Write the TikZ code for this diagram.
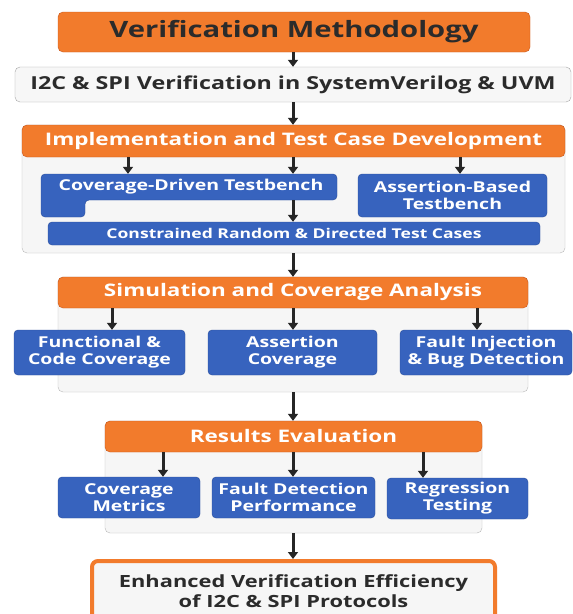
\documentclass[tikz,border=0pt]{standalone}
\usepackage{fontspec}
\setmainfont{Open Sans}[FakeStretch=1.3]
\usetikzlibrary{arrows.meta}
\definecolor{hdrorange}{HTML}{F27B2C}
\definecolor{hdrborder}{HTML}{C9561A}
\definecolor{blkblue}{HTML}{3763BE}
\definecolor{blkborder}{HTML}{284C9A}
\definecolor{panelfill}{HTML}{F6F6F6}
\definecolor{panelgray}{HTML}{B8B8B8}
\definecolor{inktext}{HTML}{2B2B2B}
\definecolor{arrblack}{HTML}{262626}
\tikzset{
  hdr/.style={draw=hdrborder, fill=hdrorange, rounded corners=5pt, text=white, font=\bfseries\fontsize{17.3}{20}\selectfont, inner sep=0pt},
  blk/.style={draw=blkborder, fill=blkblue, rounded corners=4pt, text=white, align=center, font=\bfseries\fontsize{15}{17}\selectfont, inner sep=0pt},
  panel/.style={draw=panelgray, fill=panelfill, rounded corners=5pt, inner sep=0pt},
  arr/.style={line width=3pt, draw=arrblack, -{Triangle[width=10pt,length=7pt]}}
}
\newcommand{\flowarr}[3]{\draw[arr] (#1.south -| #3,0) -- (#2.north -| #3,0);}

\begin{document}
\begin{tikzpicture}[x=1pt,y=-1pt]
    \clip (0,0) rectangle (573,614);
    \useasboundingbox (0,0) rectangle (573,614);
    \fill[white] (0,0) rectangle (573,614);

    %top boxes
    \node[hdr, text=inktext, font=\bfseries\fontsize{22.5}{26}\selectfont, minimum width=472pt, minimum height=40pt] (title) at (294,32) {Verification Methodology};
    \node[panel, draw=panelgray!90!black, fill=white!97!black, font=\bfseries\fontsize{17.9}{21}\selectfont, text=inktext, minimum width=556pt, minimum height=35pt] (sys) at (293,84.5) {I2C \& SPI Verification in SystemVerilog \& UVM};

    %implementation
    \node[panel, minimum width=543pt, minimum height=128pt] (implpanel) at (293.5,189) {};
    \node[hdr, minimum width=543pt, minimum height=32pt] (implhdr) at (293.5,141) {Implementation and Test Case Development};
    \fill[blkblue, draw=blkborder, rounded corners=4pt] (41,174) -- (337,174) -- (337,200) -- (85,200) -- (85,217) -- (41,217) -- cycle;
    \node[blk, draw=none, fill=none, minimum width=296pt, minimum height=26pt] (cdt) at (191,187) {Coverage-Driven Testbench};
    \node[blk, minimum width=189pt, minimum height=43pt] (abt) at (452.5,195.5) {Assertion-Based\\Testbench};
    \node[blk, font=\bfseries\fontsize{13.5}{15}\selectfont, minimum width=492pt, minimum height=23pt] (crt) at (294,233.5) {Constrained Random \& Directed Test Cases};

    %simulation
    \node[panel, minimum width=470pt, minimum height=115pt] (simpanel) at (293,334.5) {};
    \node[hdr, minimum width=470pt, minimum height=31pt] (simhdr) at (293,292.5) {Simulation and Coverage Analysis};
    \node[blk, minimum width=171pt, minimum height=45pt] (fcc) at (99.5,352.5) {Functional \&\\Code Coverage};
    \node[blk, minimum width=169pt, minimum height=45pt] (acv) at (292.5,352.5) {Assertion\\Coverage};
    \node[blk, minimum width=172pt, minimum height=45pt] (fib) at (486,352.5) {Fault Injection\\\& Bug Detection};

    %results
    \node[panel, minimum width=377pt, minimum height=112pt] (respanel) at (293.5,477) {};
    \node[hdr, minimum width=377pt, minimum height=31pt] (reshdr) at (293.5,436.5) {Results Evaluation};
    \node[blk, minimum width=142pt, minimum height=41pt] (cmt) at (129,497.5) {Coverage\\Metrics};
    \node[blk, minimum width=163pt, minimum height=41pt] (fdp) at (293.5,497.5) {Fault Detection\\Performance};
    \node[blk, minimum width=141pt, minimum height=41pt] (rgt) at (457.5,498.5) {Regression\\Testing};

    \node[draw=hdrorange, line width=4pt, fill=panelfill, rounded corners=6pt, text=inktext, align=center, font=\bfseries\fontsize{16.8}{20}\selectfont, minimum width=403pt, minimum height=60pt] (outcome) at (293.5,591) {Enhanced Verification Efficiency\\of I2C \& SPI Protocols};

    %arrows
    \flowarr{title}{sys}{293}
    \flowarr{sys}{implhdr}{293}
    \flowarr{implhdr}{cdt}{128}
    \flowarr{implhdr}{cdt}{293}
    \flowarr{implhdr}{abt}{460}
    \flowarr{cdt}{crt}{293}
    \flowarr{implpanel}{simhdr}{293}
    \flowarr{simhdr}{fcc}{112}
    \flowarr{simhdr}{acv}{293}
    \flowarr{simhdr}{fib}{477}
    \flowarr{simpanel}{reshdr}{293}
    \flowarr{reshdr}{cmt}{163}
    \flowarr{reshdr}{fdp}{293}
    \flowarr{reshdr}{rgt}{423}
    \flowarr{respanel}{outcome}{293}
\end{tikzpicture}
\end{document}
